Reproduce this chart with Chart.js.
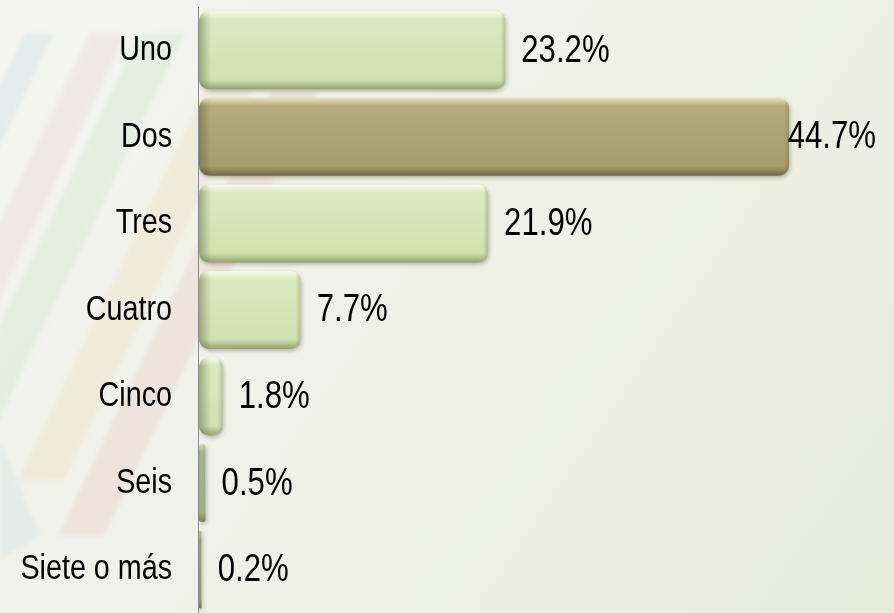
<!DOCTYPE html>
<html>
<head>
<meta charset="utf-8">
<script src="https://cdn.jsdelivr.net/npm/chart.js@4/dist/chart.umd.min.js"></script>
<style>
  html, body { margin: 0; padding: 0; background: #eef0e6; }
  #wrap { width: 894px; height: 613px; position: relative; }
</style>
</head>
<body>
<div id="wrap"><canvas id="myChart"></canvas></div>
<script>
// data
const categories = ["Uno", "Dos", "Tres", "Cuatro", "Cinco", "Seis", "Siete o más"];
const shares = [23.2, 44.7, 21.9, 7.7, 1.8, 0.5, 0.2];
const highlight = "Dos";

var ctx = document.getElementById("myChart").getContext("2d");

function roundRect(c, x, y, w, h, r) {
  r = Math.min(r, w / 2, h / 2);
  c.beginPath();
  c.moveTo(x + r, y);
  c.lineTo(x + w - r, y);
  c.quadraticCurveTo(x + w, y, x + w, y + r);
  c.lineTo(x + w, y + h - r);
  c.quadraticCurveTo(x + w, y + h, x + w - r, y + h);
  c.lineTo(x + r, y + h);
  c.quadraticCurveTo(x, y + h, x, y + h - r);
  c.lineTo(x, y + r);
  c.quadraticCurveTo(x, y, x + r, y);
  c.closePath();
}

// background: soft gradient with faded diagonal stripes
const backdrop = {
  id: "backdrop",
  beforeDraw(chart) {
    const c = chart.ctx;
    const w = chart.width, h = chart.height;
    c.save();
    let g = c.createLinearGradient(0, 0, w, h);
    g.addColorStop(0, "#f4f5f0");
    g.addColorStop(0.5, "#eff1e7");
    g.addColorStop(1, "#e6ead9");
    c.fillStyle = g;
    c.fillRect(0, 0, w, h);
    const stripes = [
      { x: 25, w: 28, y0: 34, y1: 300, col: "rgba(165,200,220,0.20)" },
      { x: 90, w: 36, y0: 34, y1: 420, col: "rgba(215,175,190,0.15)" },
      { x: 140, w: 44, y0: 34, y1: 470, col: "rgba(175,215,165,0.20)" },
      { x: 215, w: 46, y0: 70, y1: 480, col: "rgba(235,205,150,0.20)" },
      { x: 272, w: 46, y0: 90, y1: 535, col: "rgba(225,170,160,0.20)" },
    ];
    const k = 0.48;
    c.filter = "blur(2px)";
    stripes.forEach(s => {
      const d = (s.y1 - s.y0) * k;
      c.beginPath();
      c.moveTo(s.x, s.y0);
      c.lineTo(s.x + s.w, s.y0);
      c.lineTo(s.x + s.w - d, s.y1);
      c.lineTo(s.x - d, s.y1);
      c.closePath();
      c.fillStyle = s.col;
      c.fill();
    });
    c.beginPath();
    c.moveTo(0, 440);
    c.lineTo(40, 535);
    c.lineTo(0, 560);
    c.closePath();
    c.fillStyle = "rgba(165,200,220,0.18)";
    c.fill();
    c.restore();
  },
  beforeDatasetsDraw(chart) {
    const c = chart.ctx;
    c.save();
    c.shadowColor = "rgba(60,60,40,0.35)";
    c.shadowBlur = 4;
    c.shadowOffsetX = 1;
    c.shadowOffsetY = 2;
  },
  afterDatasetsDraw(chart) {
    const c = chart.ctx;
    c.restore();
    const area = chart.chartArea;

    // bevel on each bar: dark left edge, light top edge
    chart.getDatasetMeta(0).data.forEach(bar => {
      const left = bar.base, right = bar.x;
      const top = bar.y - bar.height / 2;
      const bw = right - left, bh = bar.height;
      if (bw <= 0) return;
      c.save();
      roundRect(c, left, top, bw, bh, 11);
      c.clip();
      let gl = c.createLinearGradient(left, 0, left + 12, 0);
      gl.addColorStop(0, "rgba(70,75,40,0.40)");
      gl.addColorStop(1, "rgba(70,75,40,0)");
      c.fillStyle = gl;
      c.fillRect(left, top, Math.min(12, bw), bh);
      let gt = c.createLinearGradient(0, top, 0, top + 8);
      gt.addColorStop(0, "rgba(255,255,240,0.55)");
      gt.addColorStop(1, "rgba(255,255,240,0)");
      c.fillStyle = gt;
      c.fillRect(left, top, bw, 8);
      let gr = c.createLinearGradient(right - 5, 0, right, 0);
      gr.addColorStop(0, "rgba(80,85,50,0)");
      gr.addColorStop(1, "rgba(80,85,50,0.25)");
      c.fillStyle = gr;
      c.fillRect(right - 5, top, 5, bh);
      c.restore();
    });

    // axis line
    c.save();
    c.strokeStyle = "#8a8a84";
    c.lineWidth = 1;
    c.beginPath();
    c.moveTo(area.left - 0.5, area.top);
    c.lineTo(area.left - 0.5, chart.height);
    c.stroke();
    c.restore();

    const xs = chart.scales.x, ys = chart.scales.y;
    c.save();
    c.fillStyle = "#000";
    c.textBaseline = "middle";
    categories.forEach((name, i) => {
      const y = ys.getPixelForValue(i);
      // category label
      c.save();
      c.translate(172, y);
      c.scale(0.82, 1);
      c.font = '35px "Liberation Sans", Arial, sans-serif';
      c.textAlign = "right";
      c.fillText(name, 0, 0);
      c.restore();
      // value label
      const txt = shares[i].toFixed(1) + "%";
      c.save();
      c.font = '38px "Liberation Sans", Arial, sans-serif';
      const tw = c.measureText(txt).width * 0.82;
      let x = xs.getPixelForValue(shares[i]) + 16;
      if (x + tw > chart.width - 18) x = chart.width - 18 - tw;
      c.translate(x, y + 1);
      c.scale(0.82, 1);
      c.textAlign = "left";
      c.fillText(txt, 0, 0);
      c.restore();
    });
    c.restore();
  }
};

function barFill(context) {
  const chart = context.chart;
  const ys = chart.scales.y;
  const isHi = categories[context.dataIndex] === highlight;
  if (!ys || !chart.chartArea) return isHi ? "#aea577" : "#d5e4b5";
  const y = ys.getPixelForValue(context.dataIndex);
  const half = 39;
  const g = chart.ctx.createLinearGradient(0, y - half, 0, y + half);
  if (isHi) {
    g.addColorStop(0, "#c4bb8c");
    g.addColorStop(0.1, "#b5ac7d");
    g.addColorStop(0.5, "#ada477");
    g.addColorStop(0.88, "#a59c6e");
    g.addColorStop(1, "#6f6842");
  } else {
    g.addColorStop(0, "#eaf2d2");
    g.addColorStop(0.1, "#dce9bf");
    g.addColorStop(0.5, "#d6e5b7");
    g.addColorStop(0.88, "#d0e0ae");
    g.addColorStop(1, "#94a272");
  }
  return g;
}

var myChart = new Chart(ctx, {
  type: "bar",
  data: {
    labels: categories,
    datasets: [
      {
        label: "",
        data: shares,
        backgroundColor: barFill,
        borderWidth: 0,
        borderRadius: 11,
        borderSkipped: false,
        categoryPercentage: 1,
        barPercentage: 0.9,
      },
    ],
  },
  options: {
    indexAxis: "y",
    responsive: true,
    maintainAspectRatio: false,
    animation: false,
    layout: { padding: { left: 199, top: 7, right: 0, bottom: 0 } },
    plugins: {
      legend: { display: false },
      tooltip: { enabled: false },
      title: { display: false },
    },
    scales: {
      x: { display: false, min: 0, max: 52.65 },
      y: { display: false },
    },
  },
  plugins: [backdrop],
});
</script>
</body>
</html>
